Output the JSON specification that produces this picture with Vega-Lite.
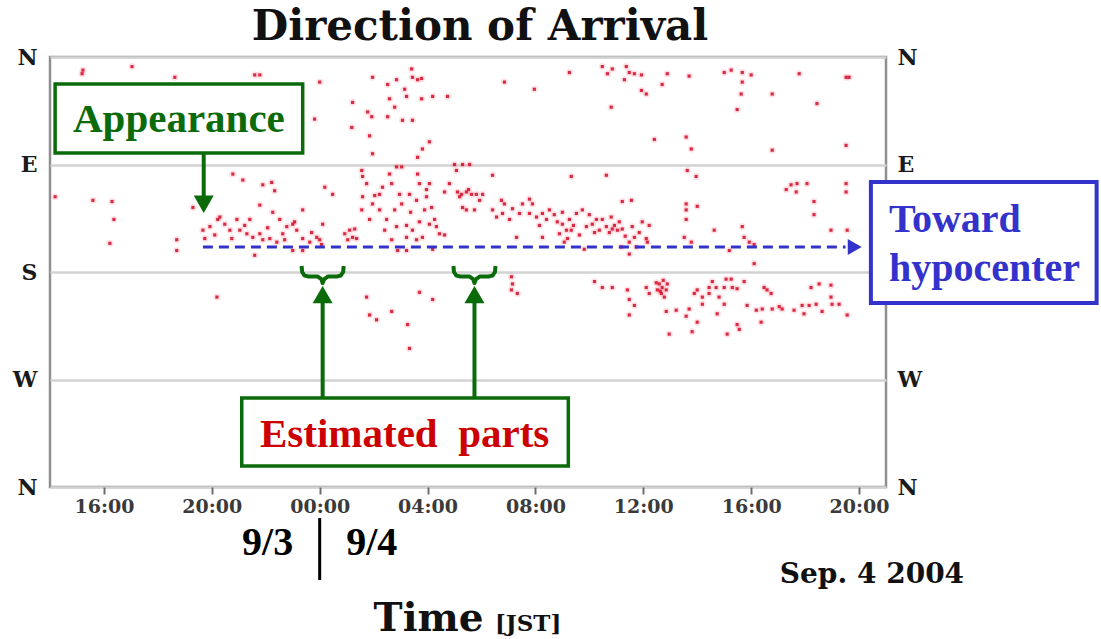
{
  "$schema": "https://vega.github.io/schema/vega-lite/v6.json",
  "width": 836,
  "height": 430,
  "autosize": {"type": "none"},
  "padding": {"left": 50, "top": 57, "right": 215, "bottom": 152},
  "background": "white",
  "title": {"text": "Direction of Arrival", "font": "DejaVu Serif", "fontSize": 42, "fontWeight": "bold", "color": "#111111", "anchor": "middle", "dx": 12, "offset": -3},
  "config": {"view": {"stroke": "#8f8f8f", "strokeWidth": 2.5}},
  "datasets": {
    "arrivals": [
      {"hour":15.22,"direction":11},{"hour":15.19,"direction":14},{"hour":17.04,"direction":8},{"hour":18.63,"direction":17},{"hour":21.59,"direction":15},{"hour":21.78,"direction":15},{"hour":23.81,"direction":52},{"hour":24.0,"direction":21},
      {"hour":14.19,"direction":117},{"hour":15.59,"direction":120},{"hour":16.30,"direction":121},{"hour":16.37,"direction":136},{"hour":16.22,"direction":156},{"hour":18.70,"direction":153},{"hour":18.70,"direction":162},{"hour":19.30,"direction":126},{"hour":20.78,"direction":98},{"hour":21.15,"direction":103},{"hour":21.89,"direction":107},{"hour":22.22,"direction":105},{"hour":22.33,"direction":112},{"hour":21.78,"direction":124},{"hour":22.26,"direction":130},{"hour":23.37,"direction":128},{"hour":24.19,"direction":109},
      {"hour":19.67,"direction":145},{"hour":19.93,"direction":142},{"hour":20.22,"direction":136},{"hour":20.30,"direction":134},{"hour":20.48,"direction":140},{"hour":20.67,"direction":145},{"hour":20.93,"direction":136},{"hour":21.04,"direction":145},{"hour":21.41,"direction":136},{"hour":21.30,"direction":148},{"hour":21.52,"direction":151},{"hour":21.78,"direction":148},{"hour":21.89,"direction":153},{"hour":22.15,"direction":152},{"hour":22.41,"direction":155},{"hour":22.63,"direction":148},{"hour":22.78,"direction":142},{"hour":23.0,"direction":140},{"hour":23.15,"direction":145},{"hour":23.37,"direction":152},{"hour":23.63,"direction":155},{"hour":23.89,"direction":151},{"hour":24.0,"direction":153},{"hour":24.07,"direction":157},{"hour":24.11,"direction":140},{"hour":21.59,"direction":166},{"hour":23.0,"direction":162},{"hour":23.37,"direction":162},{"hour":20.19,"direction":201},
      {"hour":20.11,"direction":149},{"hour":20.74,"direction":152},{"hour":21.22,"direction":141},{"hour":22.07,"direction":143},{"hour":22.70,"direction":153},{"hour":23.07,"direction":138},{"hour":23.70,"direction":147},{"hour":22.52,"direction":136},{"hour":19.74,"direction":152},
      {"hour":27.41,"direction":10},{"hour":27.44,"direction":17},{"hour":27.63,"direction":19},{"hour":27.78,"direction":18},{"hour":25.96,"direction":17},{"hour":26.85,"direction":19},{"hour":26.52,"direction":23},{"hour":27.15,"direction":27},{"hour":26.59,"direction":35},{"hour":27.22,"direction":33},{"hour":27.78,"direction":35},{"hour":28.19,"direction":33},{"hour":28.74,"direction":33},{"hour":25.22,"direction":38},{"hour":26.78,"direction":42},{"hour":25.78,"direction":46},{"hour":25.93,"direction":50},{"hour":26.52,"direction":50},{"hour":27.07,"direction":53},{"hour":27.44,"direction":53},{"hour":25.19,"direction":59},{"hour":25.85,"direction":66},{"hour":28.07,"direction":71},{"hour":27.81,"direction":77},{"hour":25.96,"direction":81},{"hour":27.63,"direction":84},{"hour":30.85,"direction":21},{"hour":31.96,"direction":27},{"hour":33.26,"direction":13},{"hour":34.48,"direction":8},{"hour":34.67,"direction":14},
      {"hour":25.56,"direction":95},{"hour":25.59,"direction":100},{"hour":25.74,"direction":106},{"hour":25.59,"direction":117},{"hour":25.56,"direction":128},{"hour":25.96,"direction":123},{"hour":26.22,"direction":115},{"hour":26.33,"direction":109},{"hour":26.59,"direction":98},{"hour":26.85,"direction":92},{"hour":27.04,"direction":92},{"hour":26.67,"direction":106},{"hour":26.96,"direction":115},{"hour":27.04,"direction":123},{"hour":27.33,"direction":115},{"hour":27.63,"direction":98},{"hour":27.70,"direction":106},{"hour":27.96,"direction":111},{"hour":28.07,"direction":106},{"hour":27.96,"direction":117},{"hour":28.15,"direction":126},{"hour":27.59,"direction":120},{"hour":26.22,"direction":128},{"hour":26.48,"direction":136},{"hour":26.85,"direction":142},{"hour":27.22,"direction":141},{"hour":27.44,"direction":145},{"hour":27.22,"direction":151},{"hour":27.59,"direction":153},{"hour":27.81,"direction":151},{"hour":28.07,"direction":140},{"hour":28.26,"direction":136},{"hour":28.33,"direction":142},{"hour":28.44,"direction":148},{"hour":28.63,"direction":149},{"hour":26.89,"direction":162},{"hour":27.22,"direction":162},{"hour":28.19,"direction":161},{"hour":24.93,"direction":148},{"hour":25.11,"direction":145},{"hour":25.22,"direction":151},{"hour":25.37,"direction":152},{"hour":24.48,"direction":115},
      {"hour":25.04,"direction":153},{"hour":25.30,"direction":144},{"hour":26.04,"direction":116},{"hour":26.78,"direction":128},{"hour":27.37,"direction":130},{"hour":27.70,"direction":138},{"hour":26.41,"direction":145},{"hour":26.67,"direction":153},{"hour":25.85,"direction":136},{"hour":27.89,"direction":128},
      {"hour":29.0,"direction":90},{"hour":29.07,"direction":95},{"hour":29.30,"direction":90},{"hour":29.56,"direction":90},{"hour":30.41,"direction":99},{"hour":28.81,"direction":106},{"hour":29.11,"direction":113},{"hour":29.26,"direction":115},{"hour":29.44,"direction":113},{"hour":29.63,"direction":115},{"hour":29.81,"direction":115},{"hour":30.04,"direction":115},{"hour":29.30,"direction":126},{"hour":29.44,"direction":128},{"hour":29.74,"direction":128},{"hour":28.63,"direction":113},{"hour":29.19,"direction":117},{"hour":29.52,"direction":111},{"hour":29.93,"direction":120},
      {"hour":30.74,"direction":120},{"hour":30.85,"direction":123},{"hour":30.41,"direction":128},{"hour":30.56,"direction":134},{"hour":30.78,"direction":131},{"hour":31.15,"direction":127},{"hour":31.41,"direction":131},{"hour":31.52,"direction":123},{"hour":31.78,"direction":119},{"hour":31.89,"direction":123},{"hour":31.78,"direction":131},{"hour":32.04,"direction":134},{"hour":32.26,"direction":131},{"hour":32.41,"direction":136},{"hour":32.52,"direction":128},{"hour":32.81,"direction":138},{"hour":33.0,"direction":140},{"hour":33.15,"direction":145},{"hour":33.26,"direction":136},{"hour":33.52,"direction":131},{"hour":33.74,"direction":128},{"hour":32.89,"direction":148},{"hour":33.07,"direction":155},{"hour":33.33,"direction":145},{"hour":33.89,"direction":142},{"hour":34.11,"direction":140},{"hour":34.26,"direction":136},{"hour":34.48,"direction":136},{"hour":34.63,"direction":142},{"hour":34.37,"direction":145},{"hour":32.26,"direction":151},{"hour":31.30,"direction":151},{"hour":33.81,"direction":161},{"hour":33.33,"direction":100},{"hour":34.63,"direction":99},
      {"hour":32.70,"direction":132},{"hour":33.41,"direction":141},{"hour":34.0,"direction":132},{"hour":33.0,"direction":130},{"hour":33.63,"direction":149},{"hour":34.19,"direction":147},{"hour":33.19,"direction":152},{"hour":31.04,"direction":136},{"hour":32.15,"direction":141},
      {"hour":31.11,"direction":184},{"hour":31.15,"direction":190},{"hour":31.11,"direction":195},{"hour":31.33,"direction":198},{"hour":25.74,"direction":201},{"hour":27.70,"direction":197},{"hour":28.19,"direction":203},{"hour":25.85,"direction":216},{"hour":26.11,"direction":220},{"hour":26.67,"direction":213},{"hour":27.26,"direction":224},{"hour":27.33,"direction":244},{"hour":34.19,"direction":188},{"hour":34.48,"direction":193},
      {"hour":34.85,"direction":10},{"hour":35.37,"direction":8},{"hour":35.48,"direction":13},{"hour":35.67,"direction":14},{"hour":35.93,"direction":15},{"hour":35.30,"direction":19},{"hour":36.89,"direction":14},{"hour":37.70,"direction":16},{"hour":36.70,"direction":23},{"hour":35.93,"direction":28},{"hour":36.11,"direction":31},{"hour":39.0,"direction":13},{"hour":39.26,"direction":11},{"hour":39.67,"direction":13},{"hour":39.67,"direction":21},{"hour":40.0,"direction":15},{"hour":39.63,"direction":31},{"hour":40.78,"direction":31},{"hour":39.48,"direction":44},{"hour":41.78,"direction":14},{"hour":42.44,"direction":39},{"hour":43.52,"direction":17},{"hour":43.63,"direction":17},{"hour":36.41,"direction":69},{"hour":37.59,"direction":67},{"hour":37.78,"direction":77},{"hour":40.78,"direction":78},{"hour":43.52,"direction":74},{"hour":34.81,"direction":42},
      {"hour":37.63,"direction":95},{"hour":37.96,"direction":100},{"hour":37.59,"direction":123},{"hour":38.0,"direction":125},{"hour":37.59,"direction":128},{"hour":37.59,"direction":136},{"hour":38.63,"direction":145},{"hour":37.52,"direction":151},{"hour":37.78,"direction":155},{"hour":39.67,"direction":142},{"hour":39.74,"direction":151},{"hour":39.93,"direction":155},{"hour":40.11,"direction":157},{"hour":39.19,"direction":162},{"hour":40.11,"direction":173},{"hour":41.30,"direction":111},{"hour":41.48,"direction":107},{"hour":41.70,"direction":106},{"hour":42.07,"direction":106},{"hour":41.67,"direction":113},{"hour":42.33,"direction":121},{"hour":43.52,"direction":106},{"hour":43.52,"direction":113},{"hour":42.33,"direction":132},{"hour":42.96,"direction":145},{"hour":43.56,"direction":145},
      {"hour":35.22,"direction":121},{"hour":35.56,"direction":120},{"hour":34.81,"direction":134},{"hour":34.93,"direction":141},{"hour":35.04,"direction":145},{"hour":34.85,"direction":144},{"hour":35.22,"direction":144},{"hour":35.59,"direction":142},{"hour":35.96,"direction":138},{"hour":36.22,"direction":141},{"hour":35.67,"direction":151},{"hour":36.11,"direction":152},{"hour":36.15,"direction":155},{"hour":35.48,"direction":155},{"hour":35.74,"direction":159},{"hour":35.19,"direction":159},{"hour":35.48,"direction":165},{"hour":35.11,"direction":138},{"hour":35.85,"direction":147},{"hour":35.33,"direction":150},{"hour":34.74,"direction":147},
      {"hour":36.59,"direction":190},{"hour":36.70,"direction":193},{"hour":36.85,"direction":195},{"hour":36.67,"direction":198},{"hour":36.52,"direction":195},{"hour":36.78,"direction":201},{"hour":36.89,"direction":190},{"hour":36.11,"direction":193},{"hour":36.22,"direction":198},{"hour":35.41,"direction":195},{"hour":35.48,"direction":203},{"hour":35.67,"direction":208},{"hour":35.48,"direction":216},{"hour":36.85,"direction":213},{"hour":37.22,"direction":212},{"hour":36.96,"direction":232},{"hour":37.70,"direction":211},{"hour":37.59,"direction":217},{"hour":36.48,"direction":189},{"hour":36.74,"direction":187},{"hour":36.63,"direction":196},
      {"hour":37.89,"direction":198},{"hour":38.0,"direction":195},{"hour":38.19,"direction":201},{"hour":38.44,"direction":193},{"hour":38.44,"direction":198},{"hour":38.56,"direction":188},{"hour":38.70,"direction":193},{"hour":38.81,"direction":201},{"hour":39.0,"direction":193},{"hour":39.07,"direction":186},{"hour":39.26,"direction":186},{"hour":39.30,"direction":193},{"hour":39.48,"direction":194},{"hour":39.74,"direction":188},{"hour":39.0,"direction":207},{"hour":38.19,"direction":207},{"hour":38.0,"direction":222},{"hour":37.81,"direction":230},{"hour":39.48,"direction":224},{"hour":39.56,"direction":228},{"hour":39.11,"direction":232},{"hour":38.74,"direction":215},
      {"hour":40.48,"direction":193},{"hour":40.59,"direction":195},{"hour":40.74,"direction":198},{"hour":39.85,"direction":208},{"hour":40.19,"direction":212},{"hour":40.41,"direction":211},{"hour":40.78,"direction":211},{"hour":41.04,"direction":209},{"hour":41.15,"direction":211},{"hour":40.37,"direction":222},{"hour":41.59,"direction":212},{"hour":41.89,"direction":208},{"hour":42.15,"direction":208},{"hour":41.96,"direction":215},{"hour":42.41,"direction":207},{"hour":42.63,"direction":213},{"hour":42.22,"direction":193},{"hour":42.52,"direction":190},{"hour":42.96,"direction":191},{"hour":42.96,"direction":201},{"hour":43.0,"direction":207},{"hour":43.26,"direction":207},{"hour":43.56,"direction":216},{"hour":34.85,"direction":193}
    ],
    "braces": [
      {"brace":1,"order":1,"hour":23.33,"direction":175},{"brace":1,"order":2,"hour":23.35,"direction":180},{"brace":1,"order":3,"hour":23.44,"direction":183},{"brace":1,"order":4,"hour":23.59,"direction":183.8},{"brace":1,"order":5,"hour":23.93,"direction":183.8},{"brace":1,"order":6,"hour":24.06,"direction":185.9},{"brace":1,"order":7,"hour":24.11,"direction":189.2},{"brace":1,"order":8,"hour":24.17,"direction":185.9},{"brace":1,"order":9,"hour":24.30,"direction":183.8},{"brace":1,"order":10,"hour":24.63,"direction":183.8},{"brace":1,"order":11,"hour":24.78,"direction":183},{"brace":1,"order":12,"hour":24.87,"direction":180},{"brace":1,"order":13,"hour":24.89,"direction":175},
      {"brace":2,"order":1,"hour":28.96,"direction":175},{"brace":2,"order":2,"hour":28.98,"direction":180},{"brace":2,"order":3,"hour":29.07,"direction":183},{"brace":2,"order":4,"hour":29.22,"direction":183.8},{"brace":2,"order":5,"hour":29.56,"direction":183.8},{"brace":2,"order":6,"hour":29.69,"direction":185.9},{"brace":2,"order":7,"hour":29.74,"direction":189.2},{"brace":2,"order":8,"hour":29.80,"direction":185.9},{"brace":2,"order":9,"hour":29.93,"direction":183.8},{"brace":2,"order":10,"hour":30.26,"direction":183.8},{"brace":2,"order":11,"hour":30.41,"direction":183},{"brace":2,"order":12,"hour":30.50,"direction":180},{"brace":2,"order":13,"hour":30.52,"direction":175}
    ]
  },
  "resolve": {"axis": {"y": "independent"}},
  "layer": [
    {
      "layer": [
        {
          "data": {"name": "arrivals"},
          "mark": {"type": "circle", "size": 50, "color": "#ff6a84", "opacity": 0.2},
          "encoding": {
            "x": {"field": "hour", "type": "quantitative", "scale": {"domain": [14, 45], "nice": false, "zero": false},
              "axis": {"values": [16, 20, 24, 28, 32, 36, 40, 44], "labelExpr": "(datum.value % 24 < 10 ? '0' : '') + (datum.value % 24) + ':00'", "title": null, "domain": false, "grid": false, "ticks": true, "tickSize": 7, "tickWidth": 2, "tickColor": "#6e6e6e", "labelFont": "DejaVu Serif", "labelFontWeight": "bold", "labelFontSize": 19, "labelColor": "#3a3a3a", "labelPadding": 3, "labelFlush": false, "labelOverlap": false}},
            "y": {"field": "direction", "type": "quantitative", "scale": {"domain": [0, 360], "reverse": true, "nice": false, "zero": false},
              "axis": {"values": [0, 90, 180, 270, 360], "labelExpr": "datum.value == 90 ? 'E' : datum.value == 180 ? 'S' : datum.value == 270 ? 'W' : 'N'", "title": null, "domain": false, "ticks": false, "grid": true, "gridColor": "#d2d2d2", "gridWidth": 2.5, "labelFont": "DejaVu Serif", "labelFontWeight": "bold", "labelFontSize": 22, "labelColor": "#1a1a1a", "labelPadding": 13, "labelOverlap": false}}
          }
        },
        {
          "data": {"name": "arrivals"},
          "mark": {"type": "square", "size": 10, "color": "#d10a24", "opacity": 0.85},
          "encoding": {
            "x": {"field": "hour", "type": "quantitative"},
            "y": {"field": "direction", "type": "quantitative"}
          }
        },
        {
          "data": {"values": [{}]},
          "mark": {"type": "rect", "fill": "white", "stroke": "#0b6b0b", "strokeWidth": 3.5},
          "encoding": {"x": {"datum": 14.19}, "x2": {"datum": 23.37}, "y": {"datum": 22.6}, "y2": {"datum": 80.4}}
        },
        {
          "data": {"values": [{}]},
          "mark": {"type": "text", "text": "Appearance", "font": "Liberation Serif", "fontWeight": "bold", "fontSize": 41, "color": "#0b6b0b", "align": "center", "baseline": "alphabetic"},
          "encoding": {"x": {"datum": 18.78}, "y": {"datum": 62.5}}
        },
        {
          "data": {"values": [{}]},
          "mark": {"type": "rule", "color": "#0b6b0b", "strokeWidth": 4},
          "encoding": {"x": {"datum": 19.7}, "y": {"datum": 80.4}, "y2": {"datum": 118}}
        },
        {
          "data": {"values": [{}]},
          "mark": {"type": "point", "shape": "triangle-down", "size": 400, "filled": true, "color": "#0b6b0b", "opacity": 1},
          "encoding": {"x": {"datum": 19.7}, "y": {"datum": 123.3}}
        },
        {
          "data": {"values": [{}]},
          "mark": {"type": "rule", "color": "#3333cc", "strokeWidth": 3, "strokeDash": [10, 6]},
          "encoding": {"x": {"datum": 19.67}, "x2": {"datum": 43.5}, "y": {"datum": 159.1}}
        },
        {
          "data": {"values": [{}]},
          "mark": {"type": "point", "shape": "triangle-right", "size": 260, "filled": true, "color": "#3333cc", "opacity": 1},
          "encoding": {"x": {"datum": 43.84}, "y": {"datum": 159.1}}
        },
        {
          "data": {"values": [{}]},
          "mark": {"type": "rect", "fill": "white", "stroke": "#3333cc", "strokeWidth": 4},
          "encoding": {"x": {"datum": 44.44}, "x2": {"datum": 52.81}, "y": {"datum": 104.7}, "y2": {"datum": 206}}
        },
        {
          "data": {"values": [{}]},
          "mark": {"type": "text", "text": "Toward", "font": "Liberation Serif", "fontWeight": "bold", "fontSize": 40, "color": "#3333cc", "align": "left", "baseline": "alphabetic"},
          "encoding": {"x": {"datum": 45.11}, "y": {"datum": 146.5}}
        },
        {
          "data": {"values": [{}]},
          "mark": {"type": "text", "text": "hypocenter", "font": "Liberation Serif", "fontWeight": "bold", "fontSize": 40, "color": "#3333cc", "align": "left", "baseline": "alphabetic"},
          "encoding": {"x": {"datum": 45.11}, "y": {"datum": 187.5}}
        },
        {
          "data": {"name": "braces"},
          "mark": {"type": "line", "color": "#0b6b0b", "strokeWidth": 4, "strokeJoin": "round"},
          "encoding": {
            "x": {"field": "hour", "type": "quantitative"},
            "y": {"field": "direction", "type": "quantitative"},
            "detail": {"field": "brace"},
            "order": {"field": "order"}
          }
        },
        {
          "data": {"values": [{}]},
          "mark": {"type": "rule", "color": "#0b6b0b", "strokeWidth": 4},
          "encoding": {"x": {"datum": 24.11}, "y": {"datum": 285.5}, "y2": {"datum": 203.4}}
        },
        {
          "data": {"values": [{}]},
          "mark": {"type": "rule", "color": "#0b6b0b", "strokeWidth": 4},
          "encoding": {"x": {"datum": 29.74}, "y": {"datum": 285.5}, "y2": {"datum": 203.4}}
        },
        {
          "data": {"values": [{}]},
          "mark": {"type": "point", "shape": "triangle-up", "size": 400, "filled": true, "color": "#0b6b0b", "opacity": 1},
          "encoding": {"x": {"datum": 24.11}, "y": {"datum": 199}}
        },
        {
          "data": {"values": [{}]},
          "mark": {"type": "point", "shape": "triangle-up", "size": 400, "filled": true, "color": "#0b6b0b", "opacity": 1},
          "encoding": {"x": {"datum": 29.74}, "y": {"datum": 199}}
        },
        {
          "data": {"values": [{}]},
          "mark": {"type": "rect", "fill": "white", "stroke": "#0b6b0b", "strokeWidth": 3.5},
          "encoding": {"x": {"datum": 21.11}, "x2": {"datum": 33.22}, "y": {"datum": 285.5}, "y2": {"datum": 342.4}}
        },
        {
          "data": {"values": [{}]},
          "mark": {"type": "text", "text": "Estimated\u00a0 parts", "font": "Liberation Serif", "fontWeight": "bold", "fontSize": 41, "color": "#cc0000", "align": "center", "baseline": "alphabetic"},
          "encoding": {"x": {"datum": 27.15}, "y": {"datum": 326.5}}
        },
        {
          "data": {"values": [{}]},
          "mark": {"type": "text", "text": "9/3", "font": "Liberation Serif", "fontWeight": "bold", "fontSize": 40, "color": "#000000", "align": "center", "baseline": "alphabetic"},
          "encoding": {"x": {"datum": 22.07}, "y": {"datum": 416.9}}
        },
        {
          "data": {"values": [{}]},
          "mark": {"type": "text", "text": "9/4", "font": "Liberation Serif", "fontWeight": "bold", "fontSize": 40, "color": "#000000", "align": "center", "baseline": "alphabetic"},
          "encoding": {"x": {"datum": 25.93}, "y": {"datum": 416.9}}
        },
        {
          "data": {"values": [{}]},
          "mark": {"type": "rule", "color": "#000000", "strokeWidth": 3},
          "encoding": {"x": {"datum": 24.0}, "y": {"datum": 386}, "y2": {"datum": 437.9}}
        },
        {
          "data": {"values": [{}]},
          "mark": {"type": "text", "text": "Sep. 4 2004", "font": "DejaVu Serif", "fontWeight": "bold", "fontSize": 28, "color": "#111111", "align": "center", "baseline": "alphabetic"},
          "encoding": {"x": {"datum": 44.48}, "y": {"datum": 440.4}}
        },
        {
          "data": {"values": [{}]},
          "mark": {"type": "text", "text": "Time", "font": "DejaVu Serif", "fontWeight": "bold", "fontSize": 39, "color": "#111111", "align": "left", "baseline": "alphabetic"},
          "encoding": {"x": {"datum": 26.0}, "y": {"datum": 480.5}}
        },
        {
          "data": {"values": [{}]},
          "mark": {"type": "text", "text": "[JST]", "font": "DejaVu Serif", "fontWeight": "bold", "fontSize": 23, "color": "#111111", "align": "left", "baseline": "alphabetic"},
          "encoding": {"x": {"datum": 30.5}, "y": {"datum": 480.5}}
        }
      ]
    },
    {
      "data": {"values": [{}]},
      "mark": {"type": "rule", "opacity": 0},
      "encoding": {
        "y": {"datum": 0, "type": "quantitative",
          "axis": {"orient": "right", "values": [0, 90, 270, 360], "labelExpr": "datum.value == 90 ? 'E' : datum.value == 270 ? 'W' : 'N'", "title": null, "domain": false, "ticks": false, "grid": false, "labelFont": "DejaVu Serif", "labelFontWeight": "bold", "labelFontSize": 22, "labelColor": "#1a1a1a", "labelPadding": 11, "labelOverlap": false}}
      }
    }
  ]
}
